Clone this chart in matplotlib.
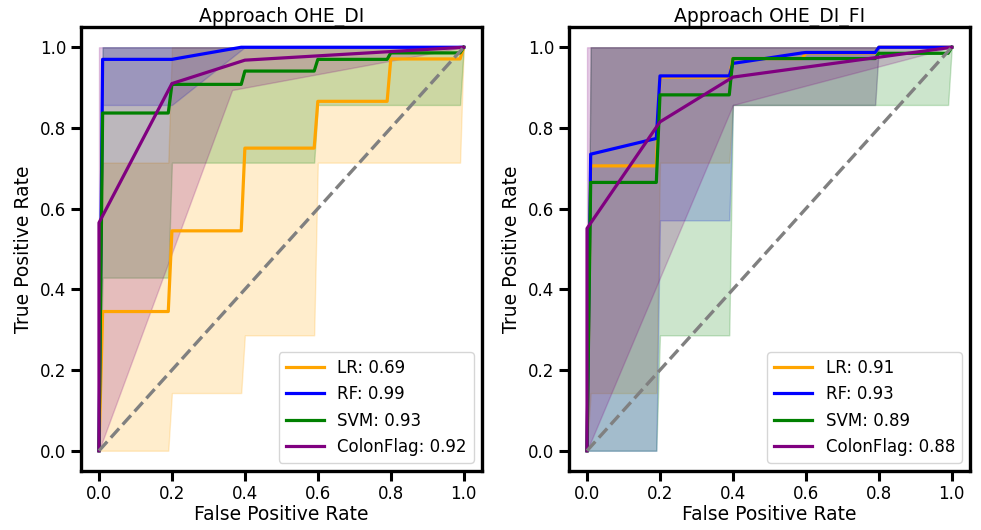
import matplotlib
matplotlib.use('Agg')
import numpy as np
from matplotlib import pyplot as plt

models = ['LR', 'RF', 'SVM', 'ColonFlag']
colors = ['orange', 'blue', 'green', 'purple']

# fpr points where the interpolated curves of LR / RF / SVM change
fpr_grid = [0.0, 0.01, 0.19, 0.2, 0.39, 0.4, 0.59, 0.6, 0.79, 0.8, 0.99, 1.0]

# ---- Approach OHE_DI ----
auc_di = [0.69, 0.99, 0.93, 0.92]
lr_mean_di = [0, 0.345, 0.345, 0.545, 0.545, 0.75, 0.75, 0.866, 0.866, 0.971, 0.971, 1.0]
lr_min_di = [0, 0, 0, 0.143, 0.143, 0.286, 0.286, 0.714, 0.714, 0.714, 0.714, 1.0]
lr_max_di = [0, 0.714, 0.714, 1, 1, 1, 1, 1, 1, 1, 1, 1]
rf_mean_di = [0, 0.97, 0.97, 0.97, 1.0, 1.0, 1.0, 1.0, 1.0, 1.0, 1.0, 1.0]
rf_min_di = [0, 0.857, 0.857, 0.857, 0.993, 1.0, 1.0, 1.0, 1.0, 1.0, 1.0, 1.0]
rf_max_di = [0, 1, 1, 1, 1, 1, 1, 1, 1, 1, 1, 1]
svm_mean_di = [0, 0.837, 0.837, 0.908, 0.908, 0.941, 0.941, 0.97, 0.97, 0.986, 0.986, 1.0]
svm_min_di = [0, 0.429, 0.429, 0.714, 0.714, 0.714, 0.714, 0.857, 0.857, 0.857, 0.857, 1.0]
svm_max_di = [0, 1, 1, 1, 1, 1, 1, 1, 1, 1, 1, 1]
cf_fpr_di = [0, 0, 0.2, 0.4, 1.0]
cf_mean_di = [0, 0.565, 0.91, 0.968, 1.0]
cf_band_fpr_di = [0, 0.365, 1.0]
cf_min_di = [0, 0.894, 1.0]
cf_max_di = [1.0, 1.0, 1.0]

# ---- Approach OHE_DI_FI ----
auc_fi = [0.91, 0.93, 0.89, 0.88]
lr_mean_fi = [0, 0.706, 0.706, 0.926, 0.926, 0.972, 0.972, 0.986, 0.986, 1.0, 1.0, 1.0]
lr_min_fi = [0, 0.143, 0.143, 0.714, 0.714, 0.857, 0.857, 0.857, 0.857, 1.0, 1.0, 1.0]
lr_max_fi = [0, 1, 1, 1, 1, 1, 1, 1, 1, 1, 1, 1]
rf_mean_fi = [0, 0.735, 0.774, 0.929, 0.929, 0.96, 0.986, 0.987, 0.987, 1.0, 1.0, 1.0]
rf_min_fi = [0, 0, 0, 0.571, 0.571, 0.857, 0.857, 0.857, 0.857, 1.0, 1.0, 1.0]
rf_max_fi = [0, 1, 1, 1, 1, 1, 1, 1, 1, 1, 1, 1]
svm_mean_fi = [0, 0.665, 0.665, 0.882, 0.882, 0.972, 0.972, 0.972, 0.972, 0.985, 0.985, 1.0]
svm_min_fi = [0, 0, 0, 0.286, 0.286, 0.857, 0.857, 0.857, 0.857, 0.857, 0.857, 1.0]
svm_max_fi = [0, 1, 1, 1, 1, 1, 1, 1, 1, 1, 1, 1]
cf_fpr_fi = [0, 0, 0.2, 0.4, 1.0]
cf_mean_fi = [0, 0.551, 0.815, 0.926, 1.0]
cf_band_fpr_fi = [0, 0.4, 1.0]
cf_min_fi = [0, 0.857, 1.0]
cf_max_fi = [1.0, 1.0, 1.0]


def draw_panel(ax, title, curves, aucs):
    # bands first, mean curves on top
    for (fx, mean, lo, hi, bx), c in zip(curves, colors):
        ax.fill_between(bx, lo, hi, color=c, alpha=0.2)
    for (fx, mean, lo, hi, bx), c, name, auc in zip(curves, colors, models, aucs):
        ax.plot(fx, mean, color=c, lw=2.3, label='%s: %.2f' % (name, auc))
    ax.plot([0, 1], [0, 1], linestyle='--', color='gray', lw=2.4)

    ax.set_xticks(np.arange(0, 1.01, 0.2))
    ax.set_yticks(np.arange(0, 1.01, 0.2))
    ax.set_xlabel('False Positive Rate', fontsize=13.5, labelpad=1)
    ax.set_ylabel('True Positive Rate', fontsize=13.5, labelpad=5)
    ax.set_title(title, fontsize=13.5, pad=3)
    ax.tick_params(labelsize=12, length=7, width=2.2)
    for s in ax.spines.values():
        s.set_linewidth(2.4)
    ax.legend(loc='lower right', fontsize=12, handlelength=2.3)


fig = plt.figure(figsize=(9.81, 5.30), dpi=100)
ax1 = fig.add_axes([0.0823, 0.1115, 0.409, 0.8374])
ax2 = fig.add_axes([0.5798, 0.1115, 0.409, 0.8374])

curves_di = [
    (fpr_grid, lr_mean_di, lr_min_di, lr_max_di, fpr_grid),
    (fpr_grid, rf_mean_di, rf_min_di, rf_max_di, fpr_grid),
    (fpr_grid, svm_mean_di, svm_min_di, svm_max_di, fpr_grid),
    (cf_fpr_di, cf_mean_di, cf_min_di, cf_max_di, cf_band_fpr_di),
]
curves_fi = [
    (fpr_grid, lr_mean_fi, lr_min_fi, lr_max_fi, fpr_grid),
    (fpr_grid, rf_mean_fi, rf_min_fi, rf_max_fi, fpr_grid),
    (fpr_grid, svm_mean_fi, svm_min_fi, svm_max_fi, fpr_grid),
    (cf_fpr_fi, cf_mean_fi, cf_min_fi, cf_max_fi, cf_band_fpr_fi),
]

draw_panel(ax1, 'Approach OHE_DI', curves_di, auc_di)
draw_panel(ax2, 'Approach OHE_DI_FI', curves_fi, auc_fi)

fig.savefig('out.png', dpi=100)
